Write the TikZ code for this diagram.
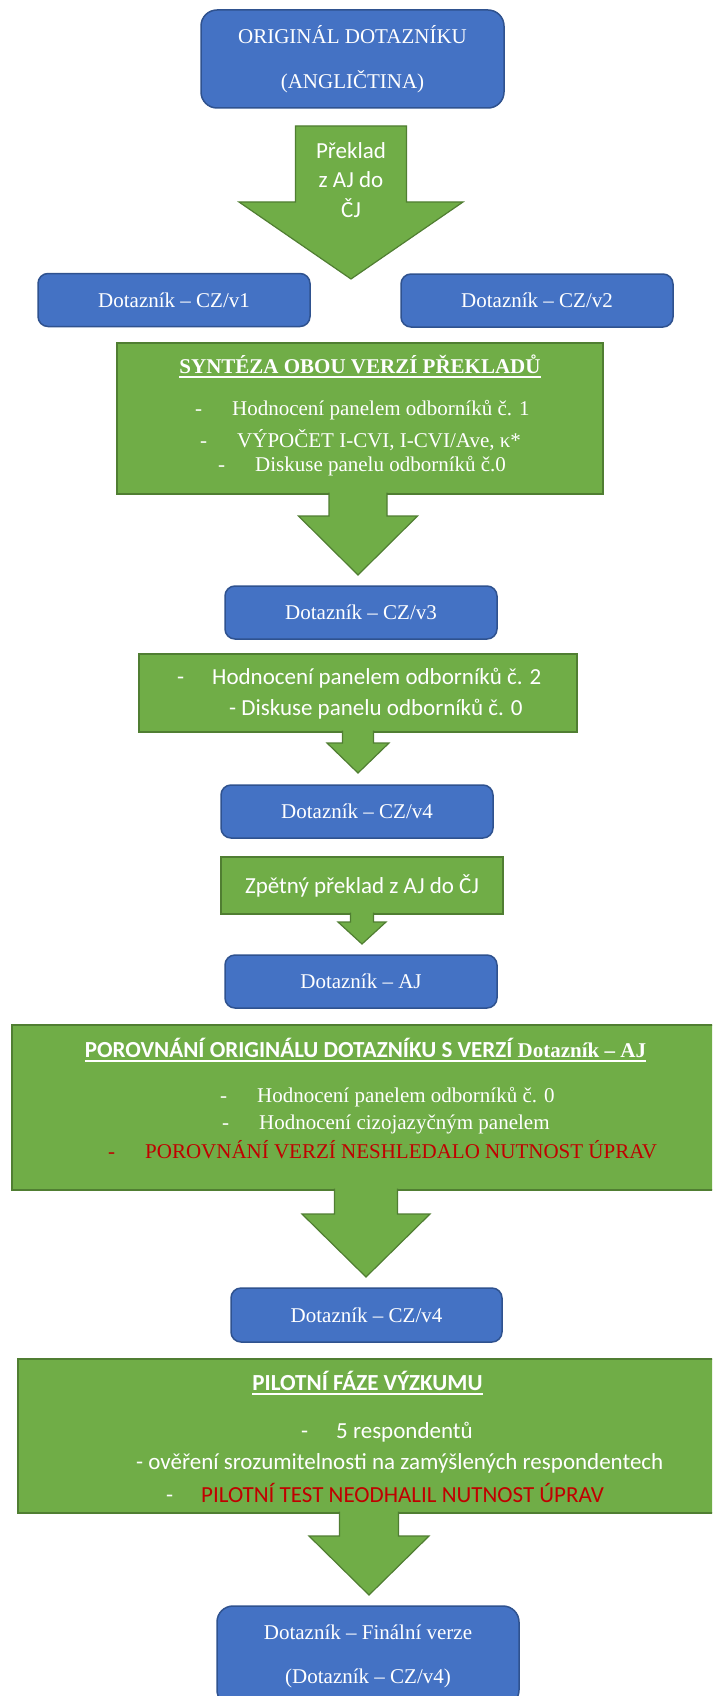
\documentclass[tikz,border=0pt]{standalone}
\usepackage{fontspec}
\setmainfont{Liberation Serif}
\newfontfamily\calibri{Carlito}
\usepackage{xcolor}
\usepackage{tikz}
\usetikzlibrary{positioning, calc}
\definecolor{boxblue}{HTML}{4472C4}
\definecolor{boxblueline}{HTML}{2F528F}
\definecolor{boxgreen}{HTML}{70AD47}
\definecolor{boxgreenline}{HTML}{507E32}
\definecolor{alertred}{HTML}{C00000}
\newcommand{\tnr}{\fontsize{21}{25}\selectfont}
\newcommand{\sansbig}{\calibri\fontsize{23}{27}\selectfont}
\newcommand{\bul}{\makebox[37pt][l]{-}}
\newcommand{\buls}{\makebox[35pt][l]{-}}
\newcommand{\ulin}[1]{\setbox0\hbox{#1}\rlap{\rule[-4.5pt]{\wd0}{1.6pt}}\box0}
% block arrow: [close], x, top, head start, tip, shaft half, head half
\newcommand{\garrow}[7][]{%
  \filldraw[arr] (#2-#6,#3) -- (#2-#6,#4) -- (#2-#7,#4) -- (#2,#5)
     -- (#2+#7,#4) -- (#2+#6,#4) -- (#2+#6,#3) #1;}
\tikzstyle{qbox}=[%
      rectangle, rounded corners=10pt, draw=boxblueline, line width=1.5pt, fill=boxblue,
      text=white, font=\tnr, align=center, minimum width=272pt, minimum height=53pt, inner sep=0pt
]
\tikzstyle{stepbox}=[%
      rectangle, draw=boxgreenline, line width=1.2pt, fill=boxgreen, inner sep=0pt
]
\tikzstyle{arr}=[draw=boxgreenline, line width=1.2pt, fill=boxgreen, line join=miter]
\tikzstyle{ln}=[text=white, inner sep=0pt, anchor=west, font=\tnr]
\tikzstyle{lns}=[ln, font=\sansbig]
\begin{document}
\begin{tikzpicture}[x=1pt, y=-1pt]
    \useasboundingbox (0,0) rectangle (712,1696);
    \clip (0,0) rectangle (712,1696);
    \fill[white] (0,0) rectangle (712,1696);

    % versions of the questionnaire
    \node[qbox, minimum width=303pt, minimum height=98pt, rounded corners=16pt,
          font=\fontsize{21}{45}\selectfont] (orig) at (352.5,59) {ORIGINÁL DOTAZNÍKU\\(ANGLIČTINA)};
    \node[qbox] (v1) at (174,300) {Dotazník – CZ/v1};
    \node[qbox] (v2) at (537,300.5) {Dotazník – CZ/v2};
    \node[qbox] (v3) at (361,612.5) {Dotazník – CZ/v3};
    \node[qbox] (v4) at (357,811.5) {Dotazník – CZ/v4};
    \node[qbox] (aj) at (361,981.5) {Dotazník – AJ};
    \node[qbox, minimum width=271pt, minimum height=54pt] (v4b) at (366.5,1315) {Dotazník – CZ/v4};
    \node[qbox, minimum width=302pt, minimum height=100pt, rounded corners=16pt,
          font=\fontsize{21}{44}\selectfont] (final) at (368,1656) {Dotazník – Finální verze\\(Dotazník – CZ/v4)};

    % steps
    \node[stepbox, minimum width=486pt, minimum height=151pt] (synt) at (360,418.5) {};
    \node[stepbox, minimum width=438pt, minimum height=78pt] (hodn) at (358,693) {};
    \node[stepbox, minimum width=282pt, minimum height=57pt, font=\sansbig, text=white] (zpet) at (362,885.5) {Zpětný překlad z AJ do ČJ};
    \node[stepbox, minimum width=718pt, minimum height=165pt] (porov) at (371,1107.5) {};
    \node[stepbox, minimum width=712pt, minimum height=154pt] (pilot) at (374,1436) {};

    % arrows
    \garrow[-- cycle]{351}{126}{202}{279}{55.5}{112}
    \garrow{358}{492.5}{516}{575}{29}{59.5}
    \garrow{358}{730.5}{743}{773}{15.5}{31}
    \garrow{362}{912.5}{922}{944}{11.5}{24}
    \garrow{366}{1188.5}{1214}{1277}{31.5}{64}
    \garrow{369}{1511.5}{1536}{1595}{29.5}{60}
    \node[text=white, align=center, inner sep=0pt,
          font={\calibri\fontsize{23}{29.5}\selectfont}] (prek) at (351,180) {Překlad\\z AJ do\\ČJ};

    % texts of the steps
    \node[ln, anchor=center, font=\tnr\bfseries] (syntT) at (360,366) {\ulin{SYNTÉZA OBOU VERZÍ PŘEKLADŮ}};
    \node[ln] (s1) at (195,410) {\bul Hodnocení panelem odborníků č. 1};
    \node[ln] (s2) at (200,440) {\bul VÝPOČET I-CVI, I-CVI/Ave, κ*};
    \node[ln] (s3) at (218,466) {\bul Diskuse panelu odborníků č.0};

    \node[lns] (h1) at (177,678) {\buls Hodnocení panelem odborníků č. 2};
    \node[lns] (h2) at (229,709) {- Diskuse panelu odborníků č. 0};

    \node[ln, anchor=center, font=\tnr\bfseries] (porovT) at (365.5,1050)
        {\ulin{{\calibri\fontsize{23}{27}\selectfont\bfseries POROVNÁNÍ ORIGINÁLU DOTAZNÍKU S VERZÍ} Dotazník – AJ}};
    \node[ln] (p1) at (220,1097) {\bul Hodnocení panelem odborníků č. 0};
    \node[ln] (p2) at (222,1124) {\bul Hodnocení cizojazyčným panelem};
    \node[ln, text=alertred] (p3) at (108,1150) {\bul POROVNÁNÍ VERZÍ NESHLEDALO NUTNOST ÚPRAV};

    \node[lns, anchor=center, font=\sansbig\bfseries] (pilotT) at (367.5,1383) {\ulin{PILOTNÍ FÁZE VÝZKUMU}};
    \node[lns] (l1) at (301,1432) {\buls 5 respondentů};
    \node[lns] (l2) at (136,1463) {- ověření srozumitelnosti na zamýšlených respondentech};
    \node[lns] (l3) at (166,1493) {\buls\textcolor{alertred}{PILOTNÍ TEST NEODHALIL NUTNOST ÚPRAV}};
\end{tikzpicture}
\end{document}
